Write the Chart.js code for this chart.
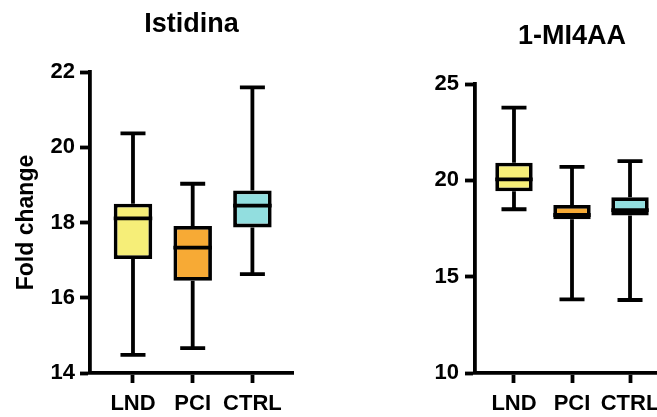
<!DOCTYPE html>
<html>
<head>
<meta charset="utf-8">
<script src="https://cdn.jsdelivr.net/npm/chart.js@4.4.0/dist/chart.umd.min.js"></script>
<style>
    html, body { margin: 0; padding: 0; background: #fff; overflow: hidden; width: 657px; height: 417px; }
    .panel { position: absolute; top: 0; height: 417px; }
    #leftWrap { left: 0; width: 330px; }
    #rightWrap { left: 330px; width: 339px; }
</style>
</head>
<body>
<div class="panel" id="leftWrap"><canvas id="leftChart" width="330" height="417"></canvas></div>
<div class="panel" id="rightWrap"><canvas id="rightChart" width="339" height="417"></canvas></div>
<script>
const categories = ['LND', 'PCI', 'CTRL'];
const boxColors = ['#F6EE78', '#F7AA35', '#92DEDF'];

// Istidina
const istMin = [14.48, 14.66, 16.63];
const istQ1 = [17.03, 16.45, 17.87];
const istMedian = [18.11, 17.33, 18.45];
const istQ3 = [18.5, 17.91, 18.85];
const istMax = [20.37, 19.03, 21.59];
const istTicks = [14, 16, 18, 20, 22];

// 1-MI4AA
const miMin = [18.5, 13.82, 13.79];
const miQ1 = [19.43, 17.98, 18.18];
const miMedian = [20.05, 18.2, 18.45];
const miQ3 = [20.91, 18.72, 19.12];
const miMax = [23.77, 20.7, 21.0];
const miTicks = [10, 15, 20, 25];

const FONT = '"Liberation Sans", Arial, Helvetica, sans-serif';
const LW = 3.8;

// усы и медиана рисуются через шкалы графика
const boxPlugin = {
    id: 'boxparts',
    beforeDatasetsDraw(chart, args, opts) {
        const { ctx, scales: { x, y } } = chart;
        ctx.save();
        ctx.strokeStyle = '#000';
        ctx.lineWidth = LW;
        opts.min.forEach((v, i) => {
            const cx = x.getPixelForValue(i);
            const half = opts.capWidth / 2;
            ctx.beginPath();
            ctx.moveTo(cx, y.getPixelForValue(opts.q3[i]));
            ctx.lineTo(cx, y.getPixelForValue(opts.max[i]));
            ctx.moveTo(cx, y.getPixelForValue(opts.q1[i]));
            ctx.lineTo(cx, y.getPixelForValue(opts.min[i]));
            ctx.moveTo(cx - half, y.getPixelForValue(opts.max[i]));
            ctx.lineTo(cx + half, y.getPixelForValue(opts.max[i]));
            ctx.moveTo(cx - half, y.getPixelForValue(opts.min[i]));
            ctx.lineTo(cx + half, y.getPixelForValue(opts.min[i]));
            ctx.stroke();
        });
        ctx.restore();
    },
    afterDatasetsDraw(chart, args, opts) {
        const { ctx, scales: { y } } = chart;
        const meta = chart.getDatasetMeta(0);
        ctx.save();
        ctx.strokeStyle = '#000';
        ctx.lineWidth = LW;
        meta.data.forEach((bar, i) => {
            const { x: bx, width } = bar.getProps(['x', 'width'], true);
            const my = y.getPixelForValue(opts.median[i]);
            ctx.beginPath();
            ctx.moveTo(bx - width / 2, my);
            ctx.lineTo(bx + width / 2, my);
            ctx.stroke();
        });
        ctx.restore();
    }
};

function makeBoxChart(canvasId, s) {
    return new Chart(document.getElementById(canvasId), {
        type: 'bar',
        data: {
            datasets: [{
                data: categories.map((c, i) => ({ x: i, y: [s.q1[i], s.q3[i]] })),
                backgroundColor: boxColors,
                borderColor: '#000',
                borderWidth: LW,
                borderSkipped: false,
                barPercentage: 0.645,
                categoryPercentage: 1
            }]
        },
        options: {
            responsive: false,
            animation: false,
            events: [],
            layout: { padding: { left: 0, right: s.padRight, top: 0, bottom: 0 } },
            plugins: {
                legend: { display: false },
                tooltip: { enabled: false },
                title: {
                    display: true,
                    fullSize: false,
                    text: s.title,
                    color: '#000',
                    font: { family: FONT, size: 27, weight: 'bold' },
                    padding: s.titlePad
                },
                boxparts: { min: s.min, q1: s.q1, median: s.median, q3: s.q3, max: s.max, capWidth: 25 }
            },
            scales: {
                x: {
                    type: 'linear',
                    offset: false,
                    min: s.xMin,
                    max: s.xMax,
                    afterBuildTicks: sc => { sc.ticks = categories.map((c, i) => ({ value: i })); },
                    afterFit: sc => { sc.height = 44; },
                    ticks: {
                        callback: v => categories[v],
                        color: '#000',
                        padding: 8,
                        maxRotation: 0,
                        font: { family: FONT, size: 22, weight: 'bold' }
                    },
                    grid: { offset: false, drawOnChartArea: false, tickLength: 10, tickWidth: LW, tickColor: '#000' },
                    border: { color: '#000', width: LW }
                },
                y: {
                    min: s.yMin,
                    max: s.yMax,
                    afterBuildTicks: sc => { sc.ticks = s.ticks.map(v => ({ value: v })); },
                    afterFit: sc => { sc.width = s.yWidth; },
                    ticks: {
                        color: '#000',
                        padding: s.tickPad,
                        font: { family: FONT, size: 22, weight: 'bold' }
                    },
                    grid: { drawOnChartArea: false, tickLength: 10, tickWidth: LW, tickColor: '#000' },
                    border: { color: '#000', width: LW },
                    title: {
                        display: !!s.yTitle,
                        text: s.yTitle || '',
                        color: '#000',
                        padding: { top: 13, bottom: 0 },
                        font: { family: FONT, size: 23, weight: 'bold' }
                    }
                }
            }
        },
        plugins: [boxPlugin]
    });
}

makeBoxChart('leftChart', {
    title: 'Istidina', titlePad: { top: 8.8, bottom: 30.8 },
    min: istMin, q1: istQ1, median: istMedian, q3: istQ3, max: istMax,
    ticks: istTicks, yMin: 14, yMax: 22, yTitle: 'Fold change',
    xMin: -0.72, xMax: 2.68, yWidth: 90, padRight: 37, tickPad: 5
});

makeBoxChart('rightChart', {
    title: '1-MI4AA', titlePad: { top: 20.8, bottom: 30.8 },
    min: miMin, q1: miQ1, median: miMedian, q3: miQ3, max: miMax,
    ticks: miTicks, yMin: 10, yMax: 25, yTitle: null,
    xMin: -0.672, xMax: 2.672, yWidth: 145, padRight: 0, tickPad: 6
});
</script>
</body>
</html>
